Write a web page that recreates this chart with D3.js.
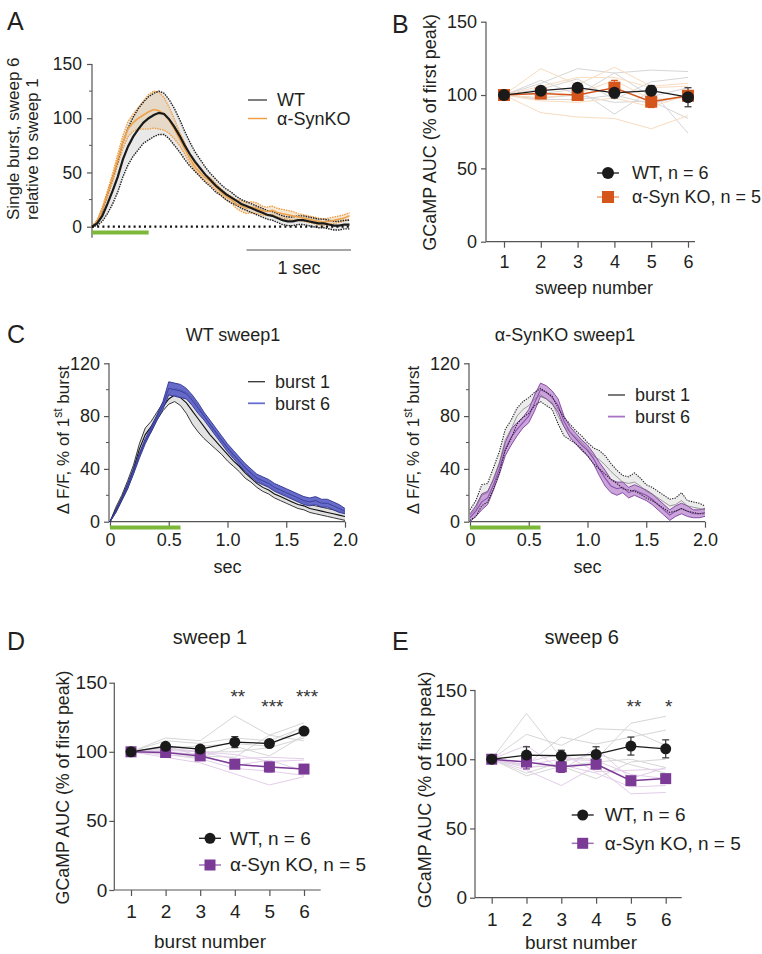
<!DOCTYPE html>
<html><head><meta charset="utf-8">
<script src="https://cdn.jsdelivr.net/npm/d3@7"></script>
<style>
body{margin:0;background:#fff;}
svg{display:block;font-family:"Liberation Sans",Arial,Helvetica,sans-serif;}
</style></head><body>
<svg id="c" width="762" height="954"></svg>
<script>
// ---------------- DATA ----------------
// Panel A: single burst, sweep 6 relative to sweep 1 (sampled every 0.05 s)
const dtA = 0.05;
const wtMeanA = [0,3,10,21,33,46,62,74,83,90,96,100,103,105,104,99,92,84,75,67,60,54,48,43,38,34,30,27,24,21,19,17,15,13,11,10,8,6,5,5,6,6,5,4,3,3,2,1,1,2,2];
const wtSemA  = [0,2,5,9,12,14,16,17,18,19,19,20,20,20,19,18,17,15,13,11,9,8,7,6,6,5,5,5,4,4,4,4,4,4,4,4,4,4,4,4,4,4,4,4,4,4,4,4,4,4,4];
const koMeanA = [0,5,16,30,45,62,78,90,96,100,103,106,108,107,104,98,90,81,72,63,55,50,45,42,37,32,28,25,21,19,17,18,17,15,14,15,13,12,11,10,9,8,7,6,5,4,5,6,7,8,10];
const koSemA  = [0,1,2,3,4,5,6,7,8,10,13,16,17,17,15,12,9,6,5,4,3,3,3,3,3,3,3,3,4,5,5,5,5,4,4,4,4,4,4,4,3,3,3,3,3,3,3,3,3,3,3];
const stimA = [0, 0.55];
const legendA = ["WT", "\u03b1-SynKO"];
const yTicksA = [0, 50, 100, 150];

// Panel C: sweep 1, burst 1 vs burst 6 (sampled every 0.05 s)
const dtC = 0.05;
const cWtB1Mean = [0,9,18,28,40,55,66,72,80,87,93,96,94,90,84,78,72,66,61,56,51,46,42,37,33,29,26,24,21,19,17,15,13,12,10,9,8,7,6,5,4];
const cWtB1Sem  = [0,2,2,3,3,4,5,4,3,3,4,5,6,8,10,10,9,7,6,5,5,4,4,4,3,3,3,3,3,3,3,3,3,3,3,3,3,3,3,3,3];
const cWtB6Mean = [0,8,17,27,38,50,61,70,79,88,101,100,99,97,92,86,80,74,68,62,56,51,46,41,37,33,31,29,26,24,22,20,18,16,15,16,14,14,12,10,8];
const cWtB6Sem  = [0,1,1,2,2,2,2,2,2,3,5,5,5,4,4,4,3,3,3,3,3,3,3,3,3,3,3,3,3,3,3,3,3,3,3,3,3,3,3,3,2];
const cKoB1Mean = [5,10,20,22,33,45,62,70,80,85,88,93,96,93,90,80,72,68,64,60,55,50,47,43,38,34,30,29,30,27,23,21,18,15,12,13,16,12,11,10,9];
const cKoB1Sem  = [4,6,8,7,8,8,8,7,6,6,6,5,5,5,5,6,7,6,5,5,5,6,7,7,6,5,5,5,7,6,5,5,5,5,5,5,6,4,4,4,3];
const cKoB6Mean = [3,8,15,18,28,40,55,64,70,75,80,90,100,98,94,88,76,68,63,58,54,48,40,33,27,25,26,22,24,22,20,17,13,9,5,8,10,8,6,6,7];
const cKoB6Sem  = [3,4,6,5,4,4,5,6,5,4,5,6,5,5,5,5,4,4,4,4,4,4,5,6,5,5,4,4,4,4,4,4,4,4,4,4,4,4,3,3,3];
const stimC = [0, 0.6];
const xTicksC = [0, 0.5, 1.0, 1.5, 2.0];
const xTickLabelsC = ["0", "0.5", "1.0", "1.5", "2.0"];
const yTicksC = [0, 40, 80, 120];
const legendC = ["burst 1", "burst 6"];

// Panel B: AUC per sweep
const sweepNums = [1, 2, 3, 4, 5, 6];
const bWtMean = [100, 103, 105, 101.5, 103, 98.5];
const bWtErr  = [0.5, 2, 2.5, 3.5, 3.5, 6.5];
const bKoMean = [100, 101, 100, 105, 95.5, 99.5];
const bKoErr  = [1, 3, 3, 5, 4, 3];
const bWtIndiv = [
  [100,108,118,115,117,116],
  [100,104,111,97,109,112],
  [100,98,100,95,96,84],
  [100,101,104,87,103,74],
  [100,97,97,100,94,100],
  [100,110,100,115,99,105]];
const bKoIndiv = [
  [100,118,107,119,106,108],
  [100,88,85,84,77,86],
  [100,96,95,98,92,100],
  [100,106,112,112,105,106],
  [100,98,101,110,97,98]];

// Panel D: sweep 1, AUC per burst
const burstNums = [1, 2, 3, 4, 5, 6];
const dWtMean = [100, 104, 102, 107, 106, 115];
const dWtErr  = [1, 1.5, 2, 4, 1.5, 1.5];
const dKoMean = [100, 99.5, 97, 91, 89, 87.5];
const dKoErr  = [1, 1, 1.5, 3, 3.5, 1.5];
const dWtIndiv = [
  [100,110,108,126,112,121],
  [100,103,104,106,104,119],
  [100,98,96,104,97,112],
  [100,108,106,110,108,118],
  [100,102,100,100,103,110],
  [100,104,97,96,112,108]];
const dKoIndiv = [
  [100,96,92,84,76,82],
  [100,101,100,95,96,95],
  [100,103,100,98,93,94],
  [100,98,95,88,86,83],
  [100,100,98,90,94,86]];
const dStars = [{burst:4, text:"**", level:0}, {burst:5, text:"***", level:1}, {burst:6, text:"***", level:0}];

// Panel E: sweep 6, AUC per burst
const eWtMean = [100, 103, 102.5, 103.5, 109.5, 107.5];
const eWtErr  = [0.5, 6, 4, 5.5, 6.5, 6.5];
const eKoMean = [100, 98, 94.5, 96.5, 84.5, 86];
const eKoErr  = [1, 5, 4, 3.5, 2.5, 2];
const eWtIndiv = [
  [100,133,101,100,126,131],
  [100,118,110,122,121,110],
  [100,96,116,111,116,121],
  [100,95,95,98,100,94],
  [100,90,98,104,96,90],
  [100,88,95,86,98,100]];
const eKoIndiv = [
  [100,110,92,108,86,94],
  [100,92,81,95,75,76],
  [100,96,100,99,89,86],
  [100,94,96,90,80,81],
  [100,98,104,91,92,93]];
const eStars = [{burst:5, text:"**", level:0}, {burst:6, text:"*", level:0}];

const aucTicks = [0, 50, 100, 150];
const dotLegend = ["WT, n = 6", "\u03b1-Syn KO, n = 5"];

// ---------------- DRAW ----------------
const svg = d3.select("#c");
const INK = "#231f20";

function txt(g, x, y, s, size, anchor) {
  return g.append("text").attr("x", x).attr("y", y).attr("font-size", size)
    .attr("fill", INK).attr("text-anchor", anchor || "start").text(s);
}
function series(means, sems, dt) {
  return means.map((m, i) => ({t: i * dt, m: m, lo: m - sems[i], hi: m + sems[i]}));
}

// panel letters
[["A", 7, 30], ["B", 392, 33], ["C", 7, 343], ["D", 7, 650], ["E", 392, 650]].forEach(d => {
  txt(svg, d[1], d[2], d[0], 25);
});

// ===== Panel A =====
(function () {
  const g = svg.append("g");
  const x = d3.scaleLinear().domain([0, 2.5]).range([92, 349.5]);
  const y = d3.scaleLinear().domain([0, 150]).range([226.7, 64]);
  const wt = series(wtMeanA, wtSemA, dtA), ko = series(koMeanA, koSemA, dtA);
  const area = d3.area().x(d => x(d.t)).y0(d => y(d.lo)).y1(d => y(d.hi));
  const lm = k => d3.line().x(d => x(d.t)).y(d => y(d[k]));

  g.append("line").attr("x1", 92).attr("x2", 92).attr("y1", y(150)).attr("y2", y(0) + 11)
    .attr("stroke", "#555").attr("stroke-width", 1.2);
  const ax = g.append("g").attr("transform", "translate(92,0)")
    .call(d3.axisLeft(y).tickValues(yTicksA).tickSize(5).tickPadding(5));
  ax.select(".domain").remove();
  ax.selectAll("line").attr("stroke", "#555").attr("stroke-width", 1.2);
  ax.selectAll("text").attr("font-size", 17.5).attr("fill", INK).attr("font-family", null);
  g.selectAll(".minA").data([25, 75, 125]).join("line")
    .attr("x1", 89).attr("x2", 92).attr("y1", d => y(d)).attr("y2", d => y(d))
    .attr("stroke", "#555").attr("stroke-width", 1);

  const lab = g.append("text").attr("transform", "translate(19,220) rotate(-90)")
    .attr("font-size", 17).attr("fill", INK);
  lab.append("tspan").attr("x", 0).attr("y", 0).text("Single burst, sweep 6");
  lab.append("tspan").attr("x", 0).attr("y", 19).text("relative to sweep 1");

  g.append("path").attr("d", area(wt)).attr("fill", "#e9e9e9");
  g.append("path").attr("d", area(ko)).attr("fill", "rgba(226,190,140,0.35)");
  ["lo", "hi"].forEach(k => {
    g.append("path").attr("d", lm(k)(ko)).attr("fill", "none").attr("stroke", "#ef9a3a")
      .attr("stroke-width", 1.3).attr("stroke-dasharray", "1.5,1");
  });
  ["lo", "hi"].forEach(k => {
    g.append("path").attr("d", lm(k)(wt)).attr("fill", "none").attr("stroke", "#222")
      .attr("stroke-width", 1.4).attr("stroke-dasharray", "1.5,1");
  });
  g.append("path").attr("d", lm("m")(ko)).attr("fill", "none").attr("stroke", "#eea24a").attr("stroke-width", 1.6);
  g.append("path").attr("d", lm("m")(wt)).attr("fill", "none").attr("stroke", "#1a1a1a").attr("stroke-width", 2.2);

  g.append("line").attr("x1", x(0)).attr("x2", 351).attr("y1", y(0)).attr("y2", y(0))
    .attr("stroke", "#111").attr("stroke-width", 2.2).attr("stroke-dasharray", "2,3.2");
  g.append("line").attr("x1", x(stimA[0])).attr("x2", x(stimA[1])).attr("y1", 232.5).attr("y2", 232.5)
    .attr("stroke", "#7cb93a").attr("stroke-width", 4);
  g.append("line").attr("x1", x(1.5)).attr("x2", x(2.5) + 1.5).attr("y1", 250).attr("y2", 250)
    .attr("stroke", "#888").attr("stroke-width", 1.3);
  txt(g, (x(1.5) + x(2.5)) / 2 + 1, 274, "1 sec", 18, "middle");

  g.append("line").attr("x1", 248).attr("x2", 267).attr("y1", 100).attr("y2", 100).attr("stroke", "#555").attr("stroke-width", 1.5);
  g.append("line").attr("x1", 248).attr("x2", 267).attr("y1", 118.5).attr("y2", 118.5).attr("stroke", "#f0a040").attr("stroke-width", 1.5);
  txt(g, 277, 106, legendA[0], 18);
  txt(g, 277, 124.5, legendA[1], 18);
})();

// ===== Panel C (two) =====
function traceC(cfg) {
  const g = svg.append("g");
  const x = d3.scaleLinear().domain([0, 2]).range([cfg.x0, cfg.x0 + 235]);
  const y = d3.scaleLinear().domain([0, 120]).range([521.7, 363.3]);
  const b1 = series(cfg.b1m, cfg.b1s, dtC), b6 = series(cfg.b6m, cfg.b6s, dtC);
  const area = d3.area().x(d => x(d.t)).y0(d => y(d.lo)).y1(d => y(d.hi));
  const lm = k => d3.line().x(d => x(d.t)).y(d => y(d[k]));
  const ax0 = cfg.x0 - 1;

  g.append("line").attr("x1", ax0).attr("x2", ax0).attr("y1", y(120)).attr("y2", y(0)).attr("stroke", "#555").attr("stroke-width", 1.2);
  g.append("line").attr("x1", ax0).attr("x2", x(2)).attr("y1", y(0)).attr("y2", y(0)).attr("stroke", "#555").attr("stroke-width", 1.2);
  const ay = g.append("g").attr("transform", `translate(${ax0},0)`)
    .call(d3.axisLeft(y).tickValues(yTicksC).tickSize(5).tickPadding(4));
  ay.select(".domain").remove();
  ay.selectAll("line").attr("stroke", "#555").attr("stroke-width", 1.2);
  ay.selectAll("text").attr("font-size", 18).attr("fill", INK).attr("font-family", null);
  g.selectAll(".minC").data([20, 60, 100]).join("line")
    .attr("x1", ax0 - 3).attr("x2", ax0).attr("y1", d => y(d)).attr("y2", d => y(d)).attr("stroke", "#555");
  const axx = g.append("g").attr("transform", `translate(0,${y(0)})`)
    .call(d3.axisBottom(x).tickValues(xTicksC).tickFormat((d, i) => xTickLabelsC[i]).tickSize(6).tickPadding(6));
  axx.select(".domain").remove();
  axx.selectAll("line").attr("stroke", "#555").attr("stroke-width", 1.2);
  axx.selectAll("text").attr("font-size", 18).attr("fill", INK).attr("font-family", null);
  txt(g, x(1), 573, "sec", 18, "middle");
  txt(g, cfg.titleX, 341, cfg.title, 18, "middle");

  const lab = g.append("text").attr("transform", `translate(${cfg.labX},440) rotate(-90)`)
    .attr("font-size", 17).attr("fill", INK).attr("text-anchor", "middle");
  lab.append("tspan").text("\u0394 F/F, % of 1");
  lab.append("tspan").attr("dy", -7).attr("font-size", 12).text("st");
  lab.append("tspan").attr("dy", 7).text(" burst");

  g.append("path").attr("d", area(b1)).attr("fill", cfg.b1Fill);
  if (cfg.dotted) {
    g.append("path").attr("d", area(b6)).attr("fill", cfg.b6Fill).attr("opacity", 0.9);
    ["lo", "hi"].forEach(k => g.append("path").attr("d", lm(k)(b6)).attr("fill", "none").attr("stroke", cfg.b6Edge).attr("stroke-width", 0.9));
    g.append("path").attr("d", lm("m")(b6)).attr("fill", "none").attr("stroke", cfg.b6Line).attr("stroke-width", 1.1);
    g.append("path").attr("d", lm("m")(b1)).attr("fill", "none").attr("stroke", "#777").attr("stroke-width", 0.7);
    ["lo", "hi"].forEach(k => g.append("path").attr("d", lm(k)(b1)).attr("fill", "none").attr("stroke", "#222")
      .attr("stroke-width", 1.1).attr("stroke-dasharray", "1.3,1.2"));
  } else {
    ["lo", "hi"].forEach(k => g.append("path").attr("d", lm(k)(b1)).attr("fill", "none").attr("stroke", "#222").attr("stroke-width", 0.9));
    g.append("path").attr("d", lm("m")(b1)).attr("fill", "none").attr("stroke", "#111").attr("stroke-width", 1.1);
    g.append("path").attr("d", area(b6)).attr("fill", cfg.b6Fill).attr("opacity", 0.92);
    ["lo", "hi"].forEach(k => g.append("path").attr("d", lm(k)(b6)).attr("fill", "none").attr("stroke", cfg.b6Edge).attr("stroke-width", 0.9));
    g.append("path").attr("d", lm("m")(b6)).attr("fill", "none").attr("stroke", cfg.b6Line).attr("stroke-width", 1);
  }

  g.append("line").attr("x1", x(stimC[0])).attr("x2", x(stimC[1])).attr("y1", 527.5).attr("y2", 527.5)
    .attr("stroke", "#7cb93a").attr("stroke-width", 4);

  g.append("line").attr("x1", cfg.legX).attr("x2", cfg.legX + 17).attr("y1", cfg.legY).attr("y2", cfg.legY).attr("stroke", "#333").attr("stroke-width", 1.3);
  g.append("line").attr("x1", cfg.legX).attr("x2", cfg.legX + 17).attr("y1", cfg.legY + 21.6).attr("y2", cfg.legY + 21.6).attr("stroke", cfg.legCol).attr("stroke-width", 1.8);
  txt(g, cfg.legX + 27, cfg.legY + 6.3, legendC[0], 18);
  txt(g, cfg.legX + 27, cfg.legY + 27.9, legendC[1], 18);
}
traceC({x0: 110, b1m: cWtB1Mean, b1s: cWtB1Sem, b6m: cWtB6Mean, b6s: cWtB6Sem,
  b1Fill: "#e2e2e2", b6Fill: "#5a60c6", b6Edge: "#2f338f", b6Line: "#3b3f9e", dotted: false,
  title: "WT sweep1", titleX: 233, labX: 69, legX: 248, legY: 381.7, legCol: "#6a6fcf"});
traceC({x0: 470, b1m: cKoB1Mean, b1s: cKoB1Sem, b6m: cKoB6Mean, b6s: cKoB6Sem,
  b1Fill: "#ececec", b6Fill: "#c59ad8", b6Edge: "#7e3f9c", b6Line: "#8d4fb0", dotted: true,
  title: "\u03b1-SynKO sweep1", titleX: 565, labX: 419, legX: 608, legY: 395, legCol: "#a872c6"});

// ===== Dot panels B, D, E =====
function dotPanel(cfg) {
  const g = svg.append("g");
  const x = d3.scaleLinear().domain([1, 6]).range([cfg.x1, cfg.x6]);
  const y = d3.scaleLinear().domain([0, 150]).range([cfg.y0, cfg.y150]);
  const line = d3.line().x((d, i) => x(cfg.cats[i])).y(d => y(d));

  g.append("line").attr("x1", cfg.ax).attr("x2", cfg.ax).attr("y1", y(150)).attr("y2", y(0)).attr("stroke", "#555").attr("stroke-width", 1.2);
  g.append("line").attr("x1", cfg.ax).attr("x2", cfg.axEnd).attr("y1", y(0)).attr("y2", y(0)).attr("stroke", "#555").attr("stroke-width", 1.2);
  const ay = g.append("g").attr("transform", `translate(${cfg.ax},0)`)
    .call(d3.axisLeft(y).tickValues(aucTicks).tickSize(5).tickPadding(cfg.yPad));
  ay.select(".domain").remove();
  ay.selectAll("line").attr("stroke", "#555").attr("stroke-width", 1.2);
  ay.selectAll("text").attr("font-size", cfg.fs).attr("fill", INK).attr("font-family", null);
  const axx = g.append("g").attr("transform", `translate(0,${y(0)})`)
    .call(d3.axisBottom(x).tickValues(cfg.cats).tickFormat(d3.format("d")).tickSize(6).tickPadding(cfg.xPad));
  axx.select(".domain").remove();
  axx.selectAll("line").attr("stroke", "#555").attr("stroke-width", 1.2);
  axx.selectAll("text").attr("font-size", cfg.fs).attr("fill", INK).attr("font-family", null);
  txt(g, cfg.xLabX, cfg.xLabY, cfg.xLab, cfg.fs, "middle");
  g.append("text").attr("transform", `translate(${cfg.yLabX},${cfg.yLabY}) rotate(-90)`)
    .attr("font-size", cfg.yLabFs).attr("fill", INK).attr("text-anchor", "middle").text("GCaMP AUC (% of first peak)");
  if (cfg.title) txt(g, cfg.titleX, 644, cfg.title, 20, "middle");

  cfg.wtIndiv.forEach(s => g.append("path").attr("d", line(s)).attr("fill", "none").attr("stroke", "#d6d6d6").attr("stroke-width", 1));
  cfg.koIndiv.forEach(s => g.append("path").attr("d", line(s)).attr("fill", "none").attr("stroke", cfg.koLight).attr("stroke-width", 1));

  g.append("path").attr("d", line(cfg.koMean)).attr("fill", "none").attr("stroke", cfg.koCol).attr("stroke-width", 1.5);
  g.append("path").attr("d", line(cfg.wtMean)).attr("fill", "none").attr("stroke", "#1a1a1a").attr("stroke-width", 1.3);

  function errs(means, errsArr, col) {
    means.forEach((m, i) => {
      const cx = x(cfg.cats[i]);
      const e = errsArr[i];
      g.append("line").attr("x1", cx).attr("x2", cx).attr("y1", y(m - e)).attr("y2", y(m + e)).attr("stroke", col).attr("stroke-width", 1.2);
      [m - e, m + e].forEach(v => g.append("line").attr("x1", cx - 3.5).attr("x2", cx + 3.5).attr("y1", y(v)).attr("y2", y(v)).attr("stroke", col).attr("stroke-width", 1.2));
    });
  }
  errs(cfg.koMean, cfg.koErr, cfg.koCol);
  errs(cfg.wtMean, cfg.wtErr, "#333");
  g.selectAll(".sq").data(cfg.koMean).join("rect")
    .attr("x", (d, i) => x(cfg.cats[i]) - cfg.sq / 2).attr("y", d => y(d) - cfg.sq / 2)
    .attr("width", cfg.sq).attr("height", cfg.sq).attr("fill", cfg.koCol);
  g.selectAll(".ci").data(cfg.wtMean).join("circle")
    .attr("cx", (d, i) => x(cfg.cats[i])).attr("cy", d => y(d)).attr("r", cfg.r).attr("fill", "#1a1a1a");

  (cfg.stars || []).forEach(s => txt(g, x(s.burst) + 3, cfg.starY + s.level * 10, s.text, 19, "middle").attr("fill", "#333"));

  const lx = cfg.legX, ly = cfg.legY, gap = cfg.legGap;
  g.append("line").attr("x1", lx).attr("x2", lx + 22).attr("y1", ly).attr("y2", ly).attr("stroke", "#1a1a1a").attr("stroke-width", 1.3);
  g.append("circle").attr("cx", lx + 11).attr("cy", ly).attr("r", cfg.r).attr("fill", "#1a1a1a");
  g.append("line").attr("x1", lx).attr("x2", lx + 22).attr("y1", ly + gap).attr("y2", ly + gap).attr("stroke", cfg.koLegLine).attr("stroke-width", 1.5);
  g.append("rect").attr("x", lx + 11 - cfg.sq / 2).attr("y", ly + gap - cfg.sq / 2).attr("width", cfg.sq).attr("height", cfg.sq).attr("fill", cfg.koCol);
  txt(g, lx + cfg.legTx, ly + 6.3, dotLegend[0], cfg.fs);
  txt(g, lx + cfg.legTx, ly + gap + 6.3, dotLegend[1], cfg.fs);
}

dotPanel({cats: sweepNums, x1: 504, x6: 688, ax: 486, axEnd: 695, y0: 241.7, y150: 21.7,
  wtMean: bWtMean, wtErr: bWtErr, koMean: bKoMean, koErr: bKoErr, wtIndiv: bWtIndiv, koIndiv: bKoIndiv,
  koCol: "#d4561c", koLight: "#f8dcc0", koLegLine: "#f0a070", r: 6, sq: 12, fs: 18, yPad: 4, xPad: 8,
  xLab: "sweep number", xLabX: 594, xLabY: 294, yLabX: 436, yLabY: 132.5, yLabFs: 18,
  legX: 597, legY: 173, legGap: 24, legTx: 35});

dotPanel({cats: burstNums, x1: 131, x6: 304, ax: 114.3, axEnd: 320.7, y0: 890, y150: 682.7,
  wtMean: dWtMean, wtErr: dWtErr, koMean: dKoMean, koErr: dKoErr, wtIndiv: dWtIndiv, koIndiv: dKoIndiv,
  koCol: "#7b3a96", koLight: "#e3cdea", koLegLine: "#a070b8", r: 5.5, sq: 11, fs: 19, yPad: 2, xPad: 9,
  xLab: "burst number", xLabX: 210, xLabY: 948, yLabX: 69, yLabY: 787.5, yLabFs: 17.8,
  title: "sweep 1", titleX: 210, stars: dStars, starY: 703,
  legX: 199, legY: 838.3, legGap: 26.7, legTx: 31});

dotPanel({cats: burstNums, x1: 491.7, x6: 665.7, ax: 475, axEnd: 681.7, y0: 897.7, y150: 690,
  wtMean: eWtMean, wtErr: eWtErr, koMean: eKoMean, koErr: eKoErr, wtIndiv: eWtIndiv, koIndiv: eKoIndiv,
  koCol: "#7b3a96", koLight: "#e3cdea", koLegLine: "#a070b8", r: 5.5, sq: 11, fs: 19, yPad: 3, xPad: 9,
  xLab: "burst number", xLabX: 581, xLabY: 949, yLabX: 431, yLabY: 790, yLabFs: 18,
  title: "sweep 6", titleX: 581.7, stars: eStars, starY: 713,
  legX: 571.7, legY: 815, legGap: 28.3, legTx: 33});
</script>
</body></html>
